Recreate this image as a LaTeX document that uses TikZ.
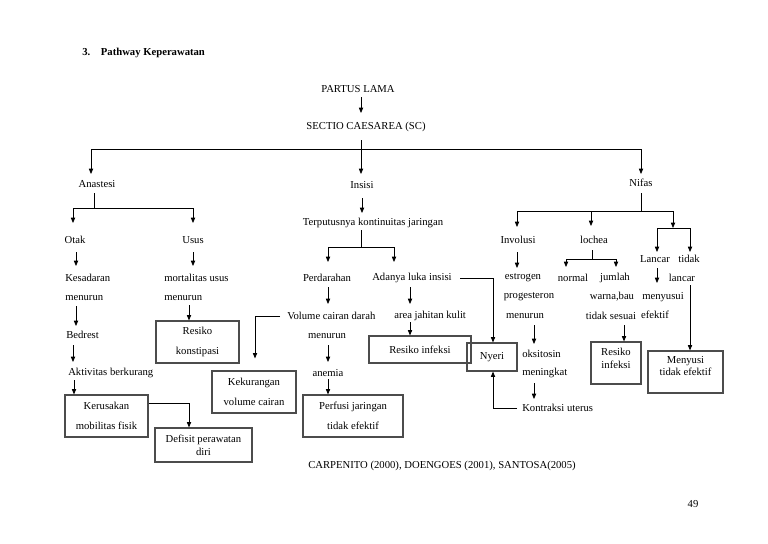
\documentclass[tikz,border=0pt]{standalone}
\usepackage{fontspec}
\setmainfont{Liberation Serif}
\usetikzlibrary{arrows.meta,calc}
\begin{document}
\begin{tikzpicture}[x=0.75pt,y=-0.75pt,
  txt/.style={inner sep=0pt,font=\fontsize{8}{10}\selectfont},
  box/.style={draw=black!70,line width=0.9pt,inner sep=0pt,align=center,font=\fontsize{8}{15}\selectfont},
  tbox/.style={box,font=\fontsize{8}{9.75}\selectfont},
  btxt/.style={inner sep=0pt,align=center,font=\fontsize{8}{9.5}\selectfont},
  ln/.style={line width=0.6pt},
  arr/.style={ln,-{Triangle[length=4pt,width=3.2pt]}}]
\useasboundingbox (0,0) rectangle (768,543);
\fill[white] (0,0) rectangle (768,543);
% title
\node[txt,anchor=west,font=\fontsize{8}{10}\selectfont\bfseries] (title) at (82,53) {3.\quad Pathway Keperawatan};
\node[txt] (partus) at (358,89) {PARTUS LAMA};
\node[txt] (sectio) at (366,127) {SECTIO CAESAREA (SC)};
% left branch
\node[txt] (anastesi) at (97,184) {Anastesi};
\node[txt] (otak) at (75,240) {Otak};
\node[txt] (usus) at (193,240) {Usus};
\node[txt,anchor=west] (kesadaran) at (65,278) {Kesadaran};
\node[txt,anchor=west] (menurun1) at (65,298) {menurun};
\node[txt,anchor=west] (bedrest) at (66,335) {Bedrest};
\node[txt,anchor=west] (aktivitas) at (68,373) {Aktivitas berkurang};
\node[box,minimum width=62.25pt,minimum height=31.5pt] (kerusakan) at (106.5,416) {Kerusakan\\mobilitas fisik};
\node[tbox,minimum width=72.75pt,minimum height=25.5pt] (defisit) at (203.5,445) {Defisit perawatan\\diri};
\node[txt,anchor=west] (mortalitas) at (164,278) {mortalitas usus};
\node[txt,anchor=west] (menurun2) at (164,298) {menurun};
\node[box,minimum width=62.25pt,minimum height=31.5pt] (konstipasi) at (197.5,342) {Resiko\\konstipasi};
% middle branch
\node[txt] (insisi) at (362,185) {Insisi};
\node[txt] (terputus) at (373,223) {Terputusnya kontinuitas jaringan};
\node[txt] (perdarahan) at (327,278) {Perdarahan};
\node[txt,anchor=west] (adanya) at (372,278) {Adanya luka insisi};
\node[txt,anchor=west] (volume) at (287,316) {Volume cairan darah};
\node[txt] (menurun3) at (327,336) {menurun};
\node[txt] (anemia) at (328,373) {anemia};
\node[box,minimum width=75pt,minimum height=31.5pt] (perfusi) at (353,416) {Perfusi jaringan\\tidak efektif};
\node[txt,anchor=west] (area) at (394,316) {area jahitan kulit};
\node[box,minimum width=76.5pt,minimum height=20.25pt] (resikoinf) at (420,349.5) {Resiko infeksi};
\node[box,minimum width=63pt,minimum height=31.5pt] (kekurangan) at (254,392) {Kekurangan\\volume cairan};
\node[box,minimum width=37.5pt,minimum height=21pt] (nyeri) at (492,357) {Nyeri};
% right branch
\node[txt] (nifas) at (641,183) {Nifas};
\node[txt] (involusi) at (518,240) {Involusi};
\node[txt] (lochea) at (594,240) {lochea};
\node[txt] (estrogen) at (523,278) {estrogen};
\node[txt] (progesteron) at (529,297) {progesteron};
\node[txt] (menurun4) at (525,316) {menurun};
\node[txt,anchor=west] (oksitosin) at (522,354) {oksitosin};
\node[txt,anchor=west] (meningkat) at (522,373) {meningkat};
\node[txt,anchor=west] (kontraksi) at (522,408) {Kontraksi uterus};
\node[txt] (normal) at (573,278) {normal};
\node[txt] (jumlah) at (615,278) {jumlah};
\node[txt] (warna) at (612,297) {warna,bau};
\node[txt] (tidaksesuai) at (611,316) {tidak sesuai};
\node[box,minimum width=37.5pt,minimum height=31.5pt] (resiko3) at (616,363) {};
\node[btxt] (resiko3t) at (616,358.5) {Resiko\\infeksi};
\node[txt] (lancar1) at (655,259) {Lancar};
\node[txt] (tidak) at (689,259) {tidak};
\node[txt] (lancar2) at (682,278) {lancar};
\node[txt] (menyusui) at (663,297) {menyusui};
\node[txt] (efektif) at (655,315) {efektif};
\node[box,minimum width=56.25pt,minimum height=31.5pt] (menyusi) at (685.5,372) {};
\node[btxt] (menyusit) at (685.5,366) {Menyusi\\tidak efektif};
% footer
\node[txt,anchor=west] (ref) at (308,466) {CARPENITO (2000), DOENGOES (2001), SANTOSA(2005)};
\node[txt] (page) at (693,504) {49};
% coordinates
\coordinate (hub) at (361,149);
\coordinate (hubL) at (91,149);
\coordinate (hubR) at (641,149);
\coordinate (anaL) at (73,208);
\coordinate (anaR) at (193,208);
\coordinate (tL) at (328,247);
\coordinate (tR) at (394,247);
\coordinate (nL) at (517,211);
\coordinate (nM) at (591,211);
\coordinate (nR) at (673,211);
\coordinate (rb) at (673,228);
\coordinate (rbL) at (657,228);
\coordinate (rbR) at (690,228);
\coordinate (lL) at (566,259);
\coordinate (lR) at (616,259);
% connectors
\draw[arr] ($(partus)+(3,8)$) -- ++(0,16);
\draw[ln] ($(sectio)+(-5,13)$) -- (hub);
\draw[ln] (hubL) -- (hubR);
\draw[arr] (hubL) -- ($(anastesi)+(-6,-10)$);
\draw[arr] (hub) -- ($(insisi)+(-1,-11)$);
\draw[arr] (hubR) -- ($(nifas)+(0,-9)$);
\draw[ln] ($(anastesi)+(-3,9)$) -- ($(anastesi)+(-3,24)$);
\draw[ln] (anaL) -- (anaR);
\draw[arr] (anaL) -- ($(otak)+(-2,-17)$);
\draw[arr] (anaR) -- ($(usus)+(0,-17)$);
\draw[arr] ($(otak)+(1,12)$) -- ++(0,14);
\draw[arr] ($(usus)+(0,12)$) -- ++(0,14);
\draw[arr] ($(menurun1.west)+(11,8)$) -- ++(0,20);
\draw[arr] ($(bedrest.west)+(7,10)$) -- ++(0,17);
\draw[arr] ($(aktivitas.west)+(6,7)$) -- ($(kerusakan.north)+(-32.5,0)$);
\draw[arr] ($(kerusakan.east)+(0,-13)$) -| ($(defisit.north)+(-14.5,0)$);
\draw[arr] ($(menurun2.west)+(25,7)$) -- ($(konstipasi.north)+(-8.5,0)$);
\draw[arr] ($(insisi)+(0,13)$) -- ++(0,15);
\draw[ln] ($(terputus)+(-12,7)$) -- ++(0,17);
\draw[ln] (tL) -- (tR);
\draw[arr] (tL) -- ($(perdarahan)+(1,-16)$);
\draw[arr] (tR) -- ++(0,15);
\draw[arr] ($(adanya.west)+(88,0)$) -| ($(nyeri.north)+(1,0)$);
\draw[arr] ($(perdarahan)+(1,9)$) -- ++(0,17);
\draw[arr] ($(adanya.west)+(38,9)$) -- ++(0,17);
\draw[arr] ($(volume.west)+(-7,0)$) -| ($(kekurangan.north)+(1,-12)$);
\draw[arr] ($(menurun3)+(1,9)$) -- ++(0,17);
\draw[arr] ($(anemia)+(0,6)$) -- ($(perfusi.north)+(-25,0)$);
\draw[arr] ($(area.west)+(16,6)$) -- ($(resikoinf.north)+(-10,0)$);
\draw[arr] ($(kontraksi.west)+(-5,0)$) -| ($(nyeri.south)+(1,0)$);
\draw[arr] ($(menurun4)+(9,9)$) -- ++(0,19);
\draw[arr] ($(meningkat.west)+(12,10)$) -- ++(0,16);
\draw[ln] ($(nifas)+(0,10)$) -- ++(0,18);
\draw[ln] (nL) -- (nR);
\draw[arr] (nL) -- ++(0,16);
\draw[arr] (nM) -- ++(0,15);
\draw[arr] (nR) -- (rb);
\draw[ln] (rbL) -- (rbR);
\draw[arr] (rbL) -- ++(0,24);
\draw[arr] (rbR) -- ++(0,24);
\draw[arr] ($(involusi)+(-1,12)$) -- ++(0,16);
\draw[ln] ($(lochea)+(-2,10)$) -- ++(0,9);
\draw[ln] (lL) -- (lR);
\draw[arr] (lL) -- ++(0,8);
\draw[arr] (lR) -- ++(0,8);
\draw[arr] ($(lancar1)+(2,9)$) -- ++(0,15);
\draw[arr] ($(lancar2)+(8,7)$) -- ($(menyusi.north)+(4.5,0)$);
\draw[arr] ($(tidaksesuai)+(13,9)$) -- ($(resiko3.north)+(8,0)$);
\end{tikzpicture}
\end{document}
